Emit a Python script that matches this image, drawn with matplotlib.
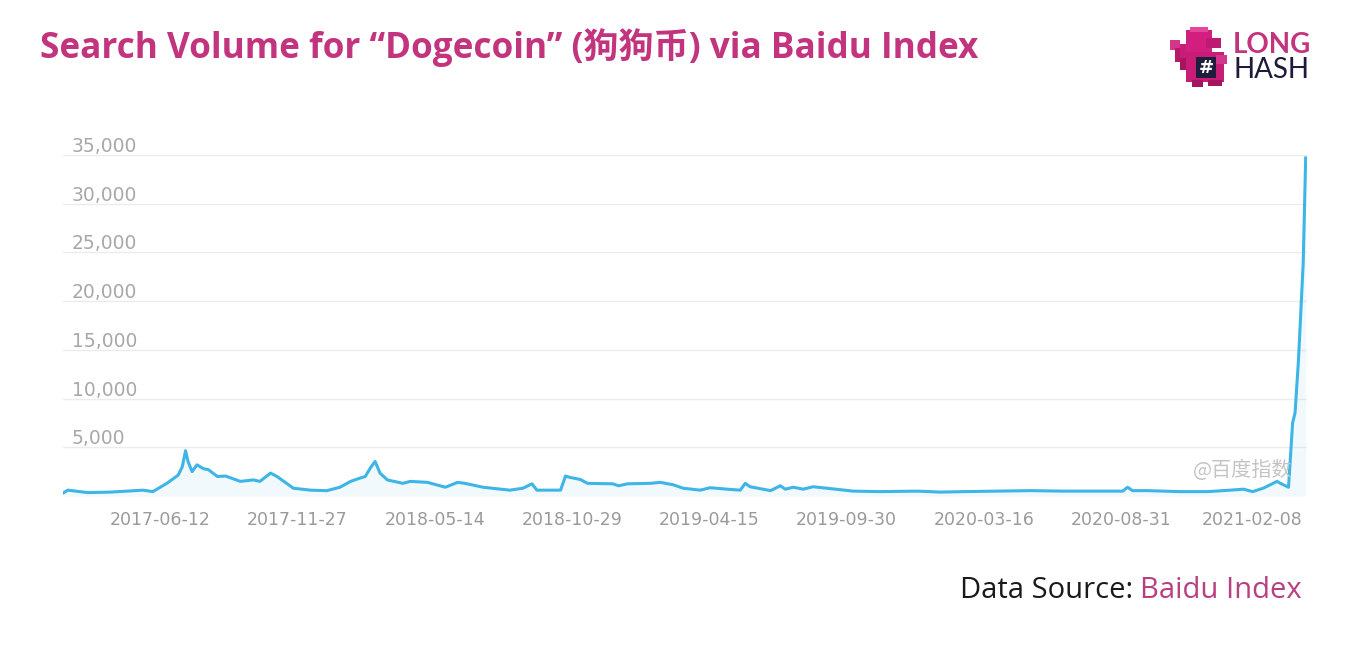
import matplotlib
matplotlib.use('Agg')
import matplotlib.pyplot as plt
import matplotlib.transforms as mtransforms
from matplotlib.patches import Rectangle
import pandas as pd

# values (irregular dates)
dates = ['2017-02-13', '2017-02-19', '2017-03-15', '2017-04-12', '2017-05-22', '2017-06-03',
         '2017-06-21', '2017-07-04', '2017-07-09', '2017-07-13', '2017-07-16', '2017-07-21',
         '2017-07-27', '2017-08-04', '2017-08-10', '2017-08-21', '2017-08-31', '2017-09-18',
         '2017-10-04', '2017-10-12', '2017-10-25', '2017-11-02', '2017-11-22', '2017-12-13',
         '2018-01-02', '2018-01-18', '2018-01-31', '2018-02-12', '2018-02-18', '2018-02-24',
         '2018-03-02', '2018-03-08', '2018-03-17', '2018-04-05', '2018-04-14', '2018-05-05',
         '2018-05-27', '2018-06-11', '2018-06-20', '2018-07-12', '2018-08-14', '2018-08-30',
         '2018-09-10', '2018-09-16', '2018-10-15', '2018-10-21', '2018-10-27', '2018-11-08',
         '2018-11-17', '2018-12-18', '2018-12-25', '2019-01-05', '2019-02-02', '2019-02-14',
         '2019-03-02', '2019-03-14', '2019-04-04', '2019-04-16', '2019-05-07', '2019-05-23',
         '2019-05-29', '2019-06-04', '2019-06-29', '2019-07-11', '2019-07-17', '2019-07-27',
         '2019-08-08', '2019-08-20', '2019-09-06', '2019-10-08', '2019-11-10', '2019-12-26',
         '2020-01-23', '2020-02-20', '2020-04-01', '2020-05-12', '2020-06-21', '2020-09-02',
         '2020-09-08', '2020-09-14', '2020-10-02', '2020-11-11', '2020-12-15', '2021-01-12',
         '2021-01-28', '2021-02-08', '2021-02-21', '2021-03-10', '2021-03-14', '2021-03-24',
         '2021-03-29', '2021-04-01', '2021-04-05', '2021-04-07', '2021-04-11', '2021-04-14']
values = [300, 600, 350, 400, 600, 450,
          1350, 2150, 3000, 4650, 3550, 2500,
          3200, 2800, 2700, 2000, 2050, 1500,
          1650, 1500, 2350, 2000, 800, 600,
          550, 900, 1500, 1850, 2000, 2850,
          3550, 2350, 1650, 1300, 1500, 1400,
          900, 1400, 1300, 900, 600, 800,
          1250, 600, 600, 2050, 1900, 1700,
          1300, 1250, 1050, 1250, 1300, 1400,
          1150, 800, 600, 850, 700, 600,
          1300, 950, 550, 1050, 700, 900,
          700, 950, 800, 500, 450, 500,
          400, 450, 500, 550, 500, 500,
          900, 550, 550, 450, 450, 600,
          700, 450, 800, 1500, 1300, 900,
          7500, 8550, 13700, 17100, 24000, 34700]

tick_dates = ['2017-06-12', '2017-11-27', '2018-05-14', '2018-10-29', '2019-04-15',
              '2019-09-30', '2020-03-16', '2020-08-31', '2021-02-08']
y_ticks = [5000, 10000, 15000, 20000, 25000, 30000, 35000]

PINK = '#c2347e'
LINE = '#3db5e6'
W, H = 1366, 650

fig = plt.figure(figsize=(13.66, 6.5), dpi=100)
ax = fig.add_axes([63 / W, 1 - 496 / H, (1306.5 - 63) / W, (496 - 155) / H])

x = pd.to_datetime(dates)
ax.fill_between(x, values, 0, color=LINE, alpha=0.07, lw=0)
ax.plot(x, values, color=LINE, lw=2.2, solid_joinstyle='round')

ax.set_xlim(pd.Timestamp('2017-02-13'), pd.Timestamp('2021-04-15'))
ax.set_ylim(0, 35000)
ax.set_yticks(y_ticks)
ax.yaxis.grid(True, color='#ececec', lw=1)
ax.set_axisbelow(True)
ax.tick_params(axis='y', length=0, labelleft=False)
ax.set_xticks(pd.to_datetime(tick_dates))
ax.set_xticklabels(tick_dates)
ax.tick_params(axis='x', length=0, pad=11, labelsize=12.5, labelcolor='#9a9a9a')
for s in ax.spines.values():
    s.set_visible(False)

# y labels sit above their gridlines
trans = mtransforms.offset_copy(ax.get_yaxis_transform(), fig=fig, x=0, y=3, units='dots')
for v in y_ticks:
    ax.text(0.0072, v, f'{v:,}', transform=trans, ha='left', va='baseline',
            fontsize=13.5, color='#a8a8a8')

fig.text(1292 / W, 1 - 470 / H, '@百度指数', ha='right', va='center', fontsize=14.5,
         color='#c4c4c4', family=['Noto Sans CJK SC', 'DejaVu Sans'])

# title
fig.text(40 / W, 1 - 47.5 / H, 'Search Volume for “Dogecoin” (狗狗币) via Baidu Index',
         fontsize=25.3, weight='bold', color=PINK, va='center',
         family=['Open Sans', 'Noto Sans CJK SC'])

# source line
t = fig.text(1302 / W, 1 - 591 / H, 'Baidu Index', ha='right', va='center',
             fontsize=21, color='#b83f80', family='Open Sans')
ax.annotate('Data Source: ', xy=(0, 0.5), xycoords=t, ha='right', va='center',
            fontsize=21, color='#1a1a1a', family='Open Sans')


# LongHash logo, rough pixel dino
def px_rect(x0, y0, x1, y1, color):
    fig.add_artist(Rectangle((x0 / W, 1 - y1 / H), (x1 - x0) / W, (y1 - y0) / H,
                             transform=fig.transFigure, color=color, lw=0))


px_rect(1170, 40, 1180, 50, '#d4368c')
px_rect(1175, 48, 1186, 62, '#b8176c')
px_rect(1180, 58, 1190, 70, '#a8145f')
px_rect(1180, 44, 1192, 58, '#c81d77')
px_rect(1186, 30, 1212, 52, '#d21f7f')
px_rect(1190, 27, 1208, 32, '#e2479a')
px_rect(1206, 38, 1221, 48, '#bf1a71')
px_rect(1186, 52, 1224, 82, '#c81d77')
px_rect(1216, 55, 1227, 64, '#d4368c')
px_rect(1196, 57, 1216, 78, '#1f1d3d')
px_rect(1192, 80, 1203, 87, '#a3155f')
px_rect(1208, 80, 1222, 86, '#a3155f')
fig.text(1206 / W, 1 - 68 / H, '#', ha='center', va='center', fontsize=13,
         weight='bold', color='white')
fig.text(1233 / W, 1 - 45 / H, 'LONG', fontsize=20, weight='bold', color=PINK,
         va='center', family='Lato')
fig.text(1233 / W, 1 - 70 / H, 'HASH', fontsize=20, weight='normal', color='#1d1b3a',
         va='center', family='Lato')

fig.savefig('out.png', dpi=100)
